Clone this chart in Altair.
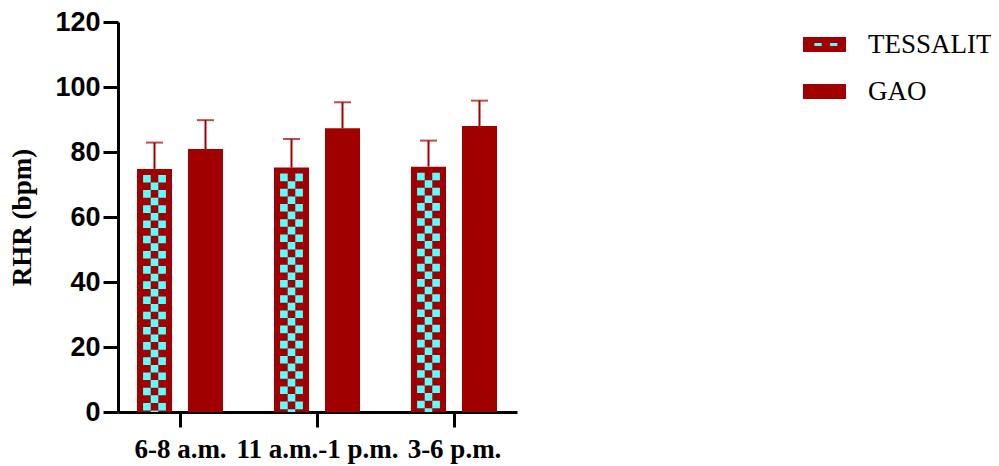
import altair as alt
import pandas as pd

# ---- data ----
times = ["6-8 a.m.", "11 a.m.-1 p.m.", "3-6 p.m."]
series = ["TESSALIT", "GAO"]
tessalit_mean = [74.8, 75.2, 75.5]
tessalit_err = [8.1, 8.8, 8.0]
gao_mean = [80.9, 87.3, 88.0]
gao_err = [8.9, 8.0, 7.8]

# ---- layout constants (pixels) ----
RED = "#A00000"
CYAN = "#5CFFFF"
W, H = 399, 390
PX_PER_CAT = 137.0
X_LEFT = -62 / PX_PER_CAT
X_RIGHT = X_LEFT + W / PX_PER_CAT
BAR_W = 35
SERIES_OFF = {"TESSALIT": -25.5 / PX_PER_CAT, "GAO": 25.5 / PX_PER_CAT}
CELL = 7.6
CAP_PX = 6
UNITS_PER_PX = 120 / H

rows = []
for i, t in enumerate(times):
    rows.append(dict(time=t, idx=i, series="TESSALIT", mean=tessalit_mean[i], err=tessalit_err[i]))
    rows.append(dict(time=t, idx=i, series="GAO", mean=gao_mean[i], err=gao_err[i]))
df = pd.DataFrame(rows)
df["pos"] = df["idx"] + df["series"].map(SERIES_OFF)
df["hi"] = df["mean"] + df["err"]
df["pattern"] = df["series"]

# checker columns inside the TESSALIT bars
cols = []
for _, r in df[df["series"] == "TESSALIT"].iterrows():
    for k, off in enumerate([-CELL, 0.0, CELL]):
        cols.append(dict(pos=r["pos"] + off / PX_PER_CAT,
                         top=r["mean"] - CAP_PX * UNITS_PER_PX,
                         parity=k % 2))
cdf = pd.DataFrame(cols)

label_expr = ("datum.value == 0 ? '" + times[0] + "' : datum.value == 1 ? '"
              + times[1] + "' : '" + times[2] + "'")

xenc = alt.X("pos:Q",
             scale=alt.Scale(domain=[X_LEFT, X_RIGHT], nice=False, zero=False, padding=0),
             axis=alt.Axis(values=[0, 1, 2], labelExpr=label_expr, title=None,
                           grid=False, domainColor="black", domainWidth=3,
                           tickColor="black", tickWidth=3, tickSize=15,
                           labelFont="Liberation Serif", labelFontWeight="bold",
                           labelFontSize=27, labelColor="black", labelPadding=9,
                           labelFlush=False, labelOverlap=False))

yscale = alt.Scale(domain=[0, 120], nice=False, padding=0)
yaxis = alt.Axis(values=[0, 20, 40, 60, 80, 100, 120], title="RHR (bpm)",
                 grid=False, domainColor="black", domainWidth=3,
                 tickColor="black", tickWidth=3, tickSize=15,
                 labelFont="Liberation Sans", labelFontWeight="bold",
                 labelFontSize=27, labelColor="black", labelPadding=3,
                 titleFont="Liberation Serif", titleFontWeight="bold",
                 titleFontSize=27, titleColor="black", titlePadding=18)

RECT_PATH = "M-1,-0.349H1V0.349H-1Z"
DASH_PATH = "M-0.47,-0.07H-0.13V0.07H-0.47Z M0.26,-0.07H0.6V0.07H0.26Z"
SYM = 43 * 43

base = alt.Chart(df)

legend_common = dict(orient="none", legendX=685, legendY=1, title=None,
                     symbolSize=SYM, symbolStrokeWidth=0, rowPadding=12,
                     labelOffset=22, labelFont="Liberation Serif",
                     labelFontSize=27, labelLimit=300)

bars = base.mark_bar(size=BAR_W).encode(
    x=xenc,
    y=alt.Y("mean:Q", scale=yscale, axis=yaxis),
    color=alt.Color("series:N",
                    scale=alt.Scale(domain=series, range=[RED, RED]),
                    legend=alt.Legend(symbolType=RECT_PATH, labelColor="black",
                                      **legend_common)),
)

checker_a = alt.Chart(cdf[cdf["parity"] == 0]).mark_rule(
    color=CYAN, strokeWidth=CELL, strokeDash=[CELL, CELL], strokeCap="butt"
).encode(x="pos:Q", y="top:Q", y2=alt.datum(0))

checker_b = alt.Chart(cdf[cdf["parity"] == 1]).mark_rule(
    color=CYAN, strokeWidth=CELL, strokeDash=[CELL, CELL], strokeDashOffset=CELL,
    strokeCap="butt"
).encode(x="pos:Q", y="top:Q", y2=alt.datum(0))

err_line = base.mark_rule(color=RED, strokeWidth=2).encode(
    x="pos:Q", y="mean:Q", y2="hi:Q")

err_cap = base.mark_tick(color=RED, orient="horizontal", size=17, thickness=2).encode(
    x="pos:Q", y="hi:Q")

dash_legend = base.mark_point(filled=True, color=CYAN, opacity=0, size=SYM).encode(
    x="pos:Q", y="mean:Q",
    shape=alt.Shape("pattern:N",
                    scale=alt.Scale(domain=series, range=[DASH_PATH, "M0,0"]),
                    legend=alt.Legend(symbolFillColor=CYAN, symbolOpacity=1,
                                      labelOpacity=0, **legend_common)),
)

chart = alt.layer(bars, checker_a, checker_b, err_line, err_cap, dash_legend).resolve_legend(
    color="independent", shape="independent"
).properties(
    width=W, height=H,
    autosize=alt.AutoSizeParams(type="none"),
    padding={"left": 110, "top": 14, "right": 474, "bottom": 62},
).configure_view(strokeWidth=0)

chart.save("out.html", embed_options={"renderer": "svg", "actions": False})
